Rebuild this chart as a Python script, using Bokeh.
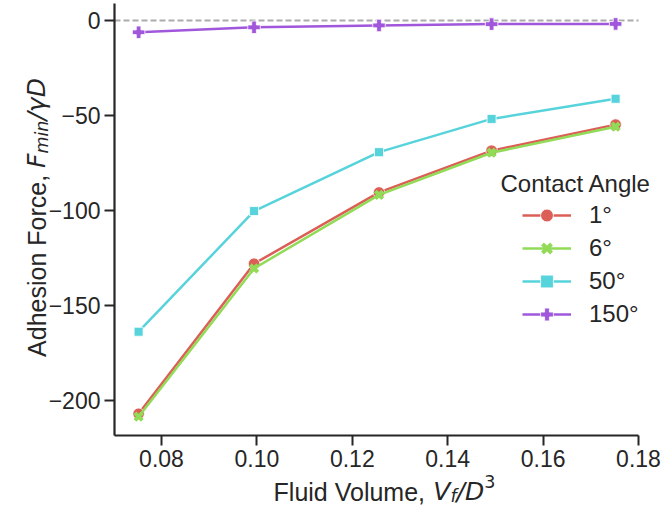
import math
from bokeh.plotting import figure
from bokeh.models import (Range1d, Label, Legend, LegendItem, FixedTicker,
                          CustomJSTickFormatter)
from bokeh.embed import file_html
from bokeh.resources import INLINE

# ---------------- data ----------------
volume = [0.0752, 0.0994, 0.1256, 0.1492, 0.1752]
angle_labels = ["1°", "6°", "50°", "150°"]
force_1 = [-207.0, -128.0, -90.5, -68.5, -54.8]
force_6 = [-208.5, -130.5, -91.8, -69.6, -55.9]
force_50 = [-163.8, -100.3, -69.3, -51.8, -41.2]
force_150 = [-6.2, -3.6, -2.6, -1.9, -1.8]
x_ticks = [0.08, 0.10, 0.12, 0.14, 0.16, 0.18]
y_ticks = [0, -50, -100, -150, -200]

colors = ["#db5f57", "#91db57", "#57d3db", "#a157db"]
series = [force_1, force_6, force_50, force_150]

INK = "#262626"
FONT = "Liberation Sans"
MATH = "DejaVu Sans"

# ---------------- geometry (pixels) ----------------
W, H = 661, 509
AX_L, AX_R, AX_T, AX_B = 114, 638, 3, 435      # axes box in pixels
PX_PER_X = 4770.0                                # px per x unit
PX_PER_Y = 1.9                                   # px per y unit
X_REF_PX, X_REF = 161, 0.08                      # pixel of a known x value
Y_ZERO_PX = 20                                   # pixel of y = 0


def xval(px):
    return X_REF + (px - X_REF_PX) / PX_PER_X


def yval(py):
    return (Y_ZERO_PX - py) / PX_PER_Y


p = figure(width=W, height=H,
           x_range=Range1d(xval(0), xval(W)), y_range=Range1d(yval(H), yval(0)),
           output_backend="svg", toolbar_location=None,
           min_border_left=0, min_border_right=0, min_border_top=0, min_border_bottom=0)
p.outline_line_color = None
p.xgrid.visible = False
p.ygrid.visible = False
p.background_fill_color = "white"
p.border_fill_color = "white"

p.xaxis.fixed_location = yval(AX_B)
p.yaxis.fixed_location = xval(AX_L)
p.xaxis.bounds = (xval(AX_L), xval(AX_R))
p.yaxis.bounds = (yval(AX_B), yval(AX_T))

for ax in (p.xaxis[0], p.yaxis[0]):
    ax.axis_line_color = INK
    ax.axis_line_width = 2.2
    ax.major_tick_line_color = INK
    ax.major_tick_line_width = 2
    ax.major_tick_out = 10
    ax.major_tick_in = 0
    ax.minor_tick_line_color = None
    ax.major_label_text_font = FONT
    ax.major_label_text_font_size = "23px"
    ax.major_label_text_color = INK
    ax.major_label_standoff = 4

p.xaxis.ticker = FixedTicker(ticks=x_ticks)
p.yaxis.ticker = FixedTicker(ticks=y_ticks)
p.xaxis.formatter = CustomJSTickFormatter(code="return tick.toFixed(2);")
p.yaxis.formatter = CustomJSTickFormatter(
    code="return tick < 0 ? '\u2212' + Math.abs(tick).toFixed(0) : tick.toFixed(0);")

# zero reference line across the axes box
p.line([xval(AX_L), xval(AX_R)], [0, 0], line_color="#ababab", line_width=2, line_dash="6 3")

items = []
for i, (ys, col, lab) in enumerate(zip(series, colors, angle_labels)):
    ln = p.line(volume, ys, line_color=col, line_width=2.5)
    if i == 0:
        sc = p.scatter(volume, ys, marker="circle", size=11.5, fill_color=col,
                       line_color="white", line_width=0.8)
    elif i == 1:
        sc = p.scatter(volume, ys, marker="x", size=10.5, line_color=col, line_width=4)
    elif i == 2:
        sc = p.scatter(volume, ys, marker="square", size=9, fill_color=col,
                       line_color="white", line_width=0.8)
    else:
        sc = p.scatter(volume, ys, marker="plus", size=12.5, fill_color=col,
                       line_color="white", line_width=0.8)
    items.append(LegendItem(label=lab, renderers=[ln, sc]))

legend = Legend(items=items, location=(522, H - 330), border_line_color=None,
                background_fill_alpha=0, padding=0, margin=0, spacing=1,
                glyph_width=49, glyph_height=32, label_height=32, label_standoff=18,
                label_text_font=FONT, label_text_font_size="24px", label_text_color=INK)
p.add_layout(legend, "center")

p.add_layout(Label(x=500, y=H - 183, x_units="screen", y_units="screen", text="Contact Angle",
                   text_font=FONT, text_font_size="24px", text_color=INK, text_baseline="middle"))

# ---- rich axis labels (mixed upright / italic / sub / superscript) ----
LIB = {' ': .278, ',': .278, '/': .278, '.': .278, 'A': .667, 'd': .556, 'h': .556, 'e': .556,
       's': .5, 'i': .222, 'o': .556, 'n': .556, 'F': .611, 'r': .333, 'c': .5, 'l': .222,
       'u': .556, 'V': .667, 'm': .833, 'D': .722, 'f': .278, '3': .556}
DJV = {'F': .575, 'm': .974, 'i': .278, 'n': .634, '/': .337, 'γ': .592, 'D': .770,
       'V': .684, 'f': .352, '3': .636}


def width(text, font, size):
    tab = LIB if font == FONT else DJV
    return sum(tab.get(c, .55) for c in text) * size


def rich_label(parts, center, base, vertical=False):
    total = sum(width(t, f, s) for t, f, st, s, sh in parts)
    pos = center - total / 2
    for t, f, st, s, sh in parts:
        if vertical:
            x, y = base - sh, pos
        else:
            x, y = pos, base + sh
        p.add_layout(Label(x=x, y=y, x_units="screen", y_units="screen", text=t,
                           text_font=f, text_font_style=st, text_font_size=f"{s:.1f}px",
                           text_color=INK, text_baseline="alphabetic", text_align="left",
                           angle=(math.pi / 2 if vertical else 0.0)))
        pos += width(t, f, s)


LS = 25.0
rich_label([("Fluid Volume, ", FONT, "normal", LS, 0),
            ("V", MATH, "italic", LS, 0),
            ("f", MATH, "italic", LS * 0.7, -0.18 * LS),
            ("/D", MATH, "italic", LS, 0),
            ("3", MATH, "normal", LS * 0.7, 0.42 * LS)],
           center=(AX_L + AX_R) / 2 + 8, base=H - 491)

rich_label([("Adhesion Force, ", FONT, "normal", LS, 0),
            ("F", MATH, "italic", LS, 0),
            ("min", MATH, "italic", LS * 0.7, -0.22 * LS),
            ("/γD", MATH, "italic", LS, 0)],
           center=H - (AX_T + AX_B) / 2 + 2, base=36, vertical=True)

open("out.html", "w").write(file_html(p, INLINE))
